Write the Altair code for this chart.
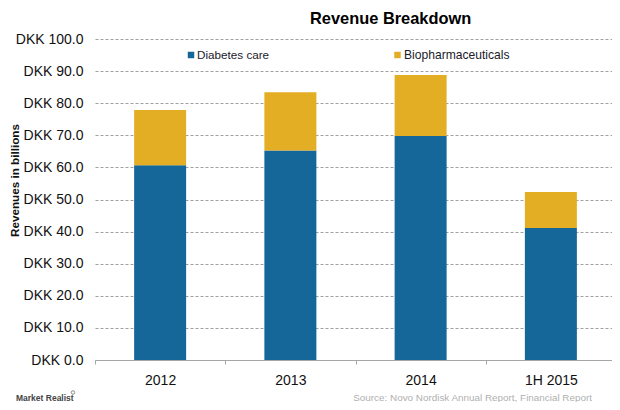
import altair as alt
import pandas as pd

periods = ["2012", "2013", "2014", "1H 2015"]
diabetes = [60.7, 65.3, 69.8, 41.1]
biopharma = [17.2, 18.1, 19.0, 11.2]
series_names = ["Diabetes care", "Biopharmaceuticals"]
colors = ["#156799", "#E3AE24"]
ticks = [0, 10, 20, 30, 40, 50, 60, 70, 80, 90, 100]
title_text = "Revenue  Breakdown"
source_text = "Source: Novo Nordisk Annual Report, Financial Report"
brand_text = "Market Realist"

rows = []
for p, d, b in zip(periods, diabetes, biopharma):
    rows.append({"period": p, "series": series_names[0], "order": 0, "value": d})
    rows.append({"period": p, "series": series_names[1], "order": 1, "value": b})
df = pd.DataFrame(rows)

FONT = "Liberation Sans"
W, H = 517, 321
LEFT, TOP = 87, 31


def px(x):
    return alt.value(x - LEFT - 8)


def py(y):
    return alt.value(y - TOP - 8)


def label(text, x, y, **kw):
    return alt.Chart(pd.DataFrame({"t": [text]})).mark_text(baseline="middle", font=FONT, **kw).encode(
        x=px(x), y=py(y), text="t:N")


def swatch(color, x, y):
    return alt.Chart(pd.DataFrame({"t": [0]})).mark_square(size=42, opacity=1, color=color).encode(
        x=px(x), y=py(y))


bars = alt.Chart(df).mark_bar(size=52).encode(
    x=alt.X("period:N", sort=periods, title=None,
            scale=alt.Scale(paddingInner=0.0, paddingOuter=0.0, range=[0, 521]),
            axis=alt.Axis(labelAngle=0, labelFontSize=14, labelColor="#111111", labelFont=FONT,
                          domainColor="#a6a6a6", domainWidth=1.2, tickColor="#a6a6a6", tickSize=4,
                          tickBand="extent", labelPadding=9, grid=False)),
    y=alt.Y("value:Q", stack="zero", title="Revenues in billions",
            scale=alt.Scale(domain=[0, 100], nice=False),
            axis=alt.Axis(values=ticks, labelExpr="'DKK ' + format(datum.value, '.1f')",
                          labelFontSize=14, labelColor="#111111", labelFont=FONT, labelPadding=12,
                          titleFont=FONT, titleFontSize=11.7, titleFontWeight="bold", titleColor="#111111",
                          titleX=-75, titleY=141, domain=False, ticks=False,
                          grid=True, gridColor="#a0a0a0", gridDash=[3, 2])),
    color=alt.Color("series:N", sort=series_names,
                    scale=alt.Scale(domain=series_names, range=colors), legend=None),
    order=alt.Order("order:Q"),
)

chart = alt.layer(
    bars,
    swatch(colors[0], 191, 55),
    swatch(colors[1], 397.5, 55),
    label(series_names[0], 197, 55, align="left", fontSize=11.7, color="#1a1a2a"),
    label(series_names[1], 404, 55, align="left", fontSize=12.1, color="#1a1a2a"),
    label(title_text, 310, 19, align="left", fontSize=16.4, fontWeight="bold", color="#000000"),
    label(source_text, 592, 398, align="right", fontSize=9.9, color="#b0b0b0"),
    label(brand_text, 16, 398, align="left", fontSize=8.5, fontWeight="bold", color="#444444"),
    alt.Chart(pd.DataFrame({"t": [0]})).mark_point(size=12, filled=False, color="#555555", strokeWidth=1).encode(
        x=px(73), y=py(392.5)),
).properties(
    width=W, height=H,
    autosize=alt.AutoSizeParams(type="none"),
    padding={"left": LEFT, "top": TOP, "right": 0, "bottom": 42},
).configure_view(stroke=None)

chart.save("out.html", embed_options={"renderer": "svg", "actions": False})
